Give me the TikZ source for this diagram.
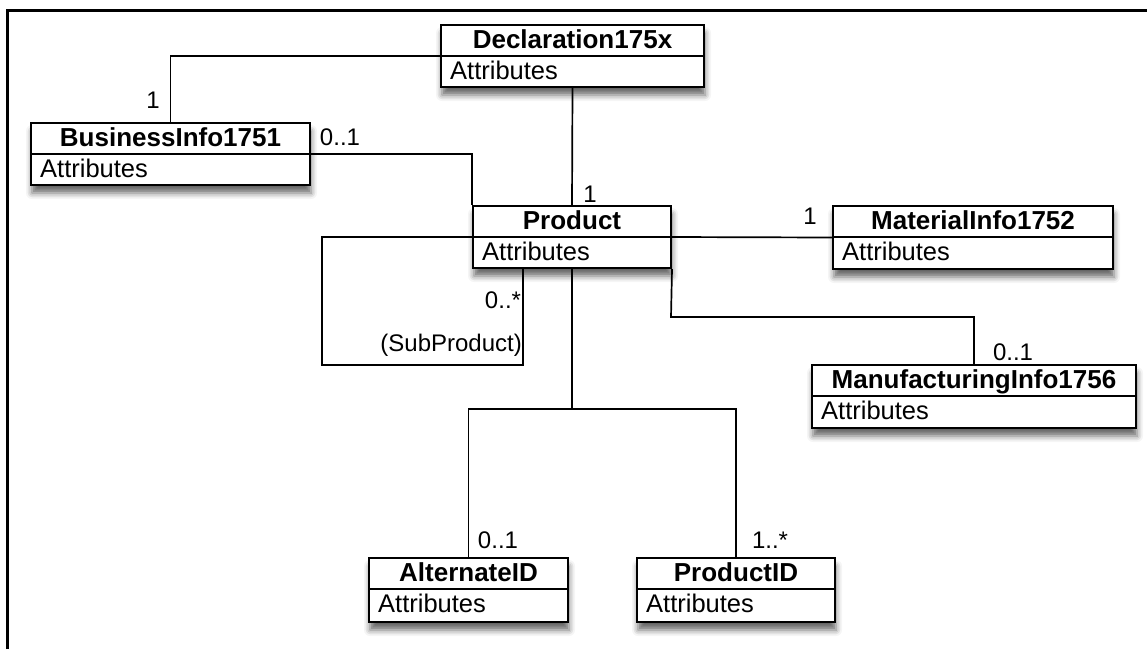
\documentclass[tikz,border=0pt]{standalone}
\usepackage{fontspec}
\setmainfont{Liberation Sans}
\usetikzlibrary{shadows.blur}
\tikzset{
  umlbox/.style={draw, line width=2pt, fill=white, inner sep=0pt,
    blur shadow={shadow xshift=1pt, shadow yshift=-8pt, shadow blur radius=6pt, shadow opacity=60}},
  hdr/.style={font=\bfseries\fontsize{26}{31}\selectfont, anchor=base, inner sep=0pt},
  attr/.style={font=\fontsize{25.5}{30}\selectfont, anchor=base west, inner sep=0pt},
  mult/.style={font=\fontsize{24}{28}\selectfont, inner sep=0pt},
  conn/.style={line width=1.7pt},
  divline/.style={line width=1.7pt}
}
% #1 name, #2 left, #3 top, #4 right, #5 bottom, #6 title
\newcommand\umlclass[6]{%
  \node[umlbox, minimum width={#4-#2}, minimum height={#5-#3}] (#1) at ({(#2+#4)/2},{(#3+#5)/2}) {};
  \draw[divline] ([yshift=-32pt]#1.north west) -- ([yshift=-32pt]#1.north east);
  \node[hdr] (#1-t) at ([yshift=-24.5pt]#1.north) {#6};
  \node[attr] (#1-a) at ([xshift=10pt,yshift=-55.5pt]#1.north west) {Attributes};
}
\begin{document}
\begin{tikzpicture}[x=1pt,y=-1pt]
\useasboundingbox (0,0) rectangle (1147,649);
\draw[line width=3pt] (7,649) -- (7,10) -- (1147,10);

\umlclass{decl}{441}{25}{704}{87}{Declaration175x}
\umlclass{biz}{31}{123}{310}{185}{BusinessInfo1751}
\umlclass{prod}{473}{206}{671}{268}{Product}
\umlclass{mat}{833}{206}{1113}{269}{MaterialInfo1752}
\umlclass{manu}{812}{365}{1136}{428}{ManufacturingInfo1756}
\umlclass{alt}{369}{558}{568}{622}{AlternateID}
\umlclass{pid}{637}{558}{835}{622}{ProductID}

\coordinate (loopc) at (322,365);
\coordinate (loopend) at (523,268);
\coordinate (mcorner) at (671,317);
\coordinate (fork) at (572,409);

\draw[conn] (decl.west) -| (biz.north);
\draw[conn] (biz.east) -| (prod.north west);
\draw[conn] (decl.south) -- (prod.north);
\draw[conn] (prod.east) -- (mat.west);
\draw[conn] (prod.south east) -- (mcorner) -| (manu.north);
\draw[conn] (prod.west) -| (loopc) -| (loopend);
\draw[conn] (prod.south) -- (fork);
\draw[conn] (alt.north) |- (fork) -| (pid.north);

\node[mult] (m1) at (153,100) {1};
\node[mult] (m2) at (340,137) {0..1};
\node[mult] (m3) at (590,194) {1};
\node[mult] (m4) at (810,216) {1};
\node[mult] (m5) at (1013,352) {0..1};
\node[mult] (m6) at (503,300) {0..*};
\node[mult, anchor=east] (m7) at (522,345) {(SubProduct)};
\node[mult] (m8) at (498,540) {0..1};
\node[mult] (m9) at (770,540) {1..*};
\end{tikzpicture}
\end{document}
